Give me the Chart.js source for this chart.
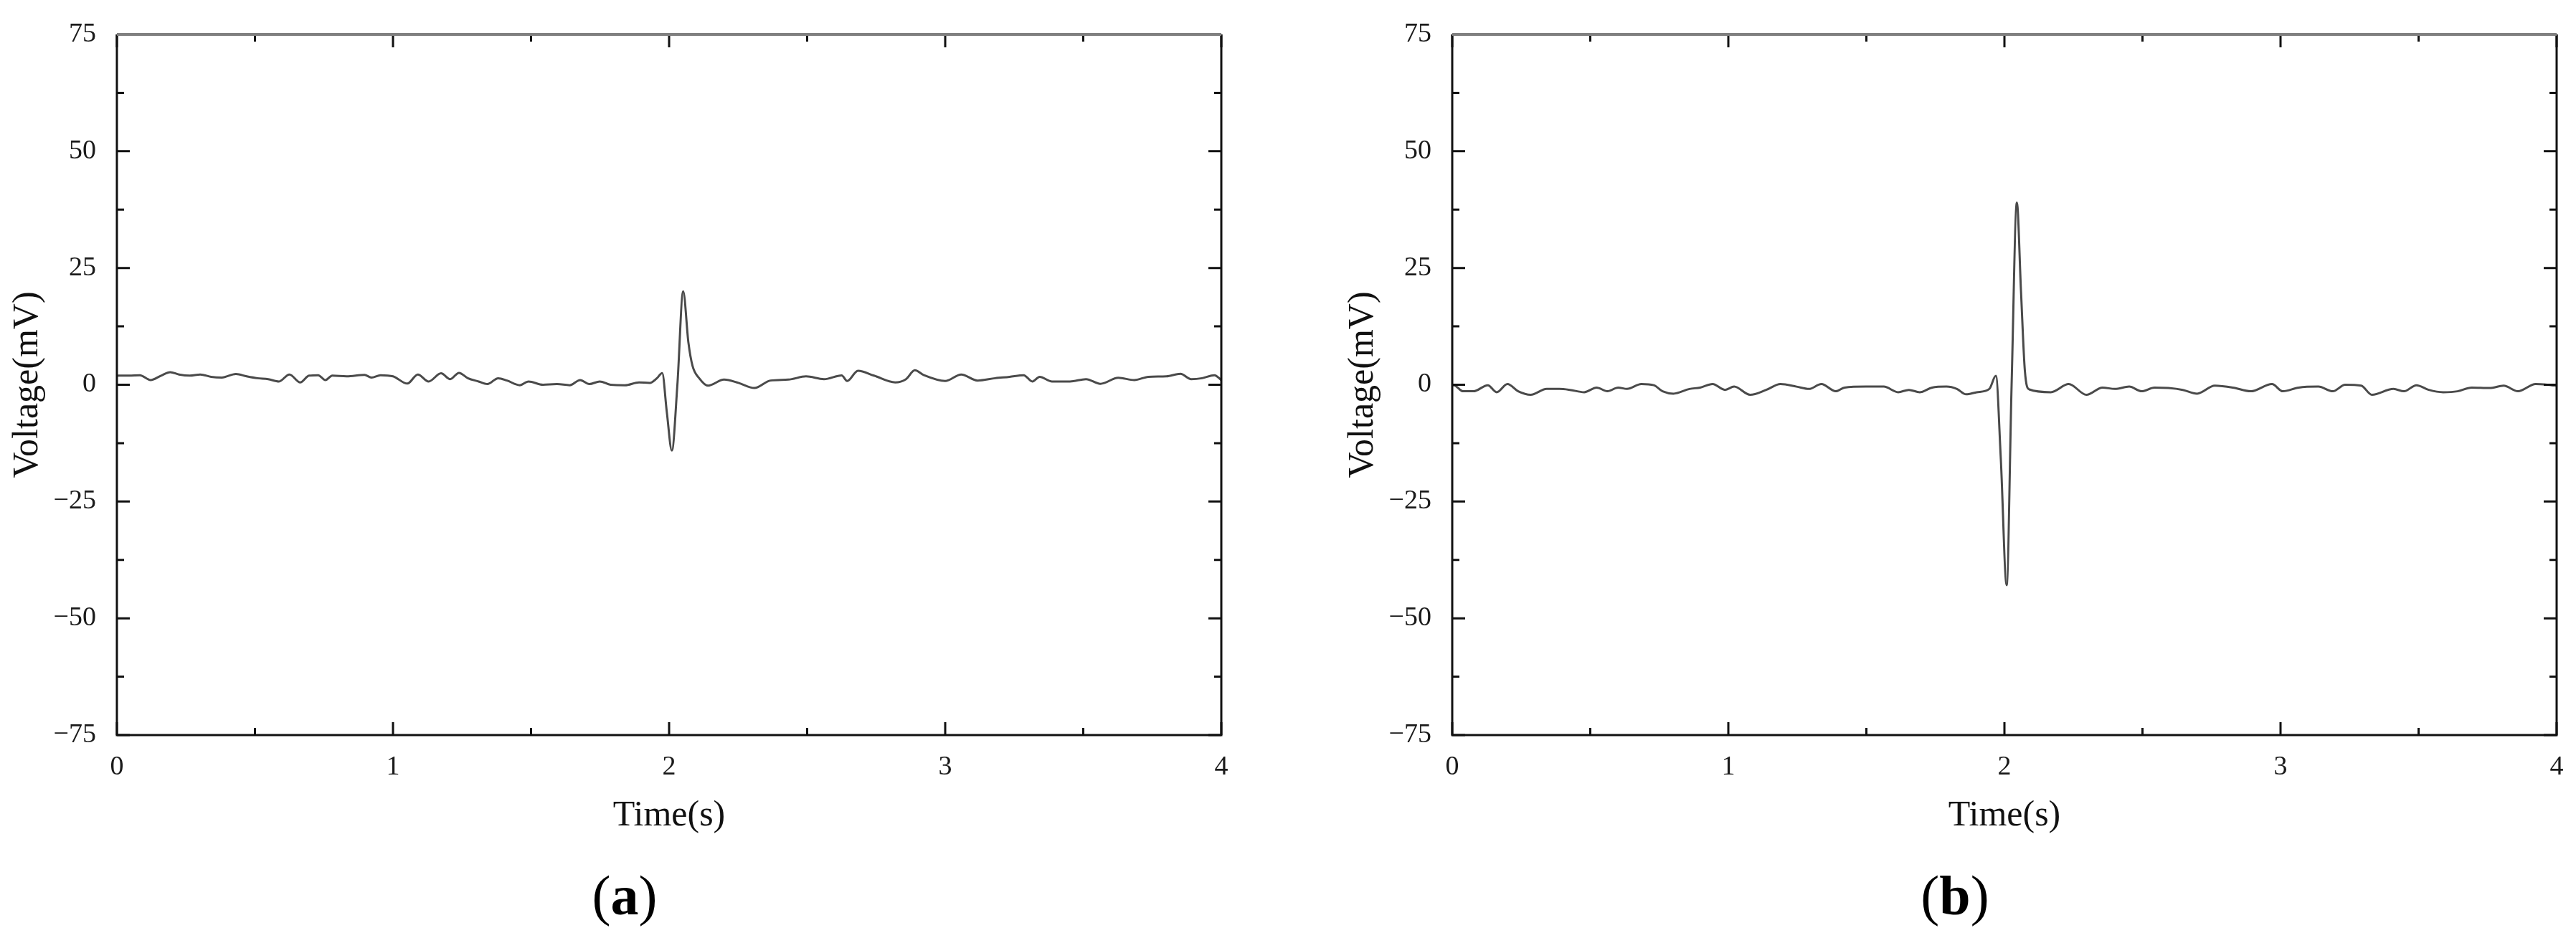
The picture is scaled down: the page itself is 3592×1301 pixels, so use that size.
<!DOCTYPE html>
<html>
<head>
<meta charset="utf-8">
<script src="https://cdn.jsdelivr.net/npm/chart.js@4/dist/chart.umd.min.js"></script>
<style>
  body { margin: 0; background: #fff; width: 3592px; height: 1301px; overflow: hidden; position: relative; }
  canvas { position: absolute; top: 0; }
  .panel { position: absolute; top: 1249px; transform: translate(-50%, -50%); font-family: 'Liberation Serif', serif; font-size: 78px; line-height: 1; color: #000; }
</style>
</head>
<body>
<canvas id="chartA" width="1796" height="1301" style="left:0px"></canvas>
<canvas id="chartB" width="1796" height="1301" style="left:1796px"></canvas>
<div class="panel" style="left:871px">(<b>a</b>)</div>
<div class="panel" style="left:2726px">(<b>b</b>)</div>
<script>
// panel (a) trace, time in s and voltage in mV
var timeA = [0, 0.005, 0.044, 0.083, 0.122, 0.160, 0.193, 0.225, 0.264, 0.302,
  0.341, 0.380, 0.431, 0.470, 0.509, 0.548, 0.587, 0.625, 0.664, 0.696,
  0.729, 0.755, 0.780, 0.832, 0.897, 0.922, 0.955, 1.000, 1.052, 1.090,
  1.129, 1.174, 1.207, 1.239, 1.271, 1.310, 1.342, 1.381, 1.413, 1.459,
  1.491, 1.543, 1.594, 1.640, 1.678, 1.711, 1.749, 1.788, 1.840, 1.891,
  1.930, 1.956, 1.975, 1.992, 2.010, 2.030, 2.051, 2.070, 2.085, 2.109,
  2.141, 2.199, 2.251, 2.309, 2.367, 2.432, 2.496, 2.561, 2.625, 2.645,
  2.684, 2.742, 2.819, 2.858, 2.890, 2.923, 3.000, 3.058, 3.117, 3.181,
  3.233, 3.284, 3.316, 3.342, 3.387, 3.452, 3.510, 3.562, 3.627, 3.685,
  3.736, 3.801, 3.852, 3.891, 3.930, 3.975, 4.0];
var voltA = [1.9, 1.95, 1.95, 2.05, 1.0, 1.95, 2.7, 2.2, 1.95, 2.2,
  1.7, 1.55, 2.3, 1.8, 1.4, 1.2, 0.7, 2.2, 0.5, 1.95,
  2.05, 1.0, 1.95, 1.8, 2.1, 1.55, 2.05, 1.8, 0.25, 2.2,
  0.7, 2.45, 1.2, 2.55, 1.4, 0.7, 0.15, 1.4, 0.9, -0.1,
  0.7, 0.0, 0.15, -0.1, 1.0, 0.15, 0.7, 0.0, -0.1, 0.5,
  0.4, 1.4, 2.5, -6, -14.1, 0, 20, 9, 4, 1.4,
  -0.2, 1.1, 0.4, -0.7, 0.9, 1.1, 1.8, 1.2, 2.0, 0.8,
  3.0, 1.95, 0.5, 1.2, 3.1, 2.05, 0.8, 2.2, 0.9, 1.4,
  1.7, 2.05, 0.7, 1.7, 0.7, 0.7, 1.2, 0.2, 1.5, 1.0,
  1.7, 1.8, 2.35, 1.2, 1.4, 2.05, 1.0];

// panel (b) trace
var timeB = [0, 0.006, 0.039, 0.077, 0.129, 0.161, 0.200, 0.239, 0.284, 0.342,
  0.388, 0.426, 0.478, 0.523, 0.562, 0.601, 0.633, 0.685, 0.730, 0.762,
  0.801, 0.859, 0.898, 0.943, 0.988, 1.021, 1.079, 1.137, 1.189, 1.247,
  1.292, 1.337, 1.389, 1.421, 1.499, 1.563, 1.615, 1.654, 1.693, 1.738,
  1.790, 1.828, 1.861, 1.900, 1.945, 1.969, 1.987, 2.008, 2.026, 2.045,
  2.060, 2.074, 2.090, 2.168, 2.233, 2.297, 2.355, 2.400, 2.452, 2.497,
  2.543, 2.594, 2.646, 2.698, 2.762, 2.827, 2.892, 2.969, 3.008, 3.066,
  3.137, 3.189, 3.234, 3.292, 3.331, 3.409, 3.447, 3.492, 3.537, 3.589,
  3.641, 3.692, 3.757, 3.808, 3.860, 3.924, 3.982, 4.0];
var voltB = [-0.1, -0.1, -1.4, -1.4, -0.1, -1.6, 0.15, -1.4, -2.15, -0.9,
  -0.9, -1.1, -1.6, -0.6, -1.4, -0.6, -0.9, 0.15, -0.1, -1.4,
  -1.9, -0.9, -0.6, 0.15, -1.1, -0.4, -2.15, -1.1, 0.15, -0.4,
  -0.9, 0.15, -1.4, -0.6, -0.4, -0.4, -1.6, -1.1, -1.6, -0.6,
  -0.4, -0.9, -2.05, -1.6, -0.9, 1.9, -16, -42.9, 0, 39,
  20, 3, -1.0, -1.6, 0.15, -2.15, -0.6, -0.9, -0.4, -1.4,
  -0.6, -0.7, -1.1, -1.9, -0.2, -0.6, -1.4, 0.15, -1.4, -0.6,
  -0.4, -1.4, 0.0, -0.2, -2.15, -0.9, -1.4, -0.1, -1.1, -1.6,
  -1.4, -0.6, -0.7, -0.2, -1.4, 0.15, -0.1, -0.2];

var xTicks = [0, 1, 2, 3, 4];
var xTickLabels = ['0', '1', '2', '3', '4'];
var yTicks = [-75, -50, -25, 0, 25, 50, 75];
var yTickLabels = ['\u221275', '\u221250', '\u221225', '0', '25', '50', '75'];

var serif = "'Liberation Serif', 'Times New Roman', serif";

// inward ticks on all four sides plus the frame
var frameTicks = {
  id: 'frameTicks',
  afterDraw: function (chart) {
    var ctx = chart.ctx;
    var a = chart.chartArea;
    var sx = chart.scales.x;
    var sy = chart.scales.y;
    ctx.save();
    ctx.strokeStyle = '#111';
    ctx.lineWidth = 3;
    ctx.beginPath();
    for (var i = 0; i < xTicks.length; i++) {
      var px = sx.getPixelForValue(xTicks[i]);
      ctx.moveTo(px, a.bottom); ctx.lineTo(px, a.bottom - 18);
      ctx.moveTo(px, a.top); ctx.lineTo(px, a.top + 18);
      if (i < xTicks.length - 1) {
        var mx = sx.getPixelForValue((xTicks[i] + xTicks[i + 1]) / 2);
        ctx.moveTo(mx, a.bottom); ctx.lineTo(mx, a.bottom - 10);
        ctx.moveTo(mx, a.top); ctx.lineTo(mx, a.top + 10);
      }
    }
    for (var j = 0; j < yTicks.length; j++) {
      var py = sy.getPixelForValue(yTicks[j]);
      ctx.moveTo(a.left, py); ctx.lineTo(a.left + 18, py);
      ctx.moveTo(a.right, py); ctx.lineTo(a.right - 18, py);
      if (j < yTicks.length - 1) {
        var my = sy.getPixelForValue((yTicks[j] + yTicks[j + 1]) / 2);
        ctx.moveTo(a.left, my); ctx.lineTo(a.left + 10, my);
        ctx.moveTo(a.right, my); ctx.lineTo(a.right - 10, my);
      }
    }
    ctx.stroke();
    ctx.beginPath();
    ctx.moveTo(a.left, a.top); ctx.lineTo(a.left, a.bottom);
    ctx.lineTo(a.right, a.bottom); ctx.lineTo(a.right, a.top);
    ctx.stroke();
    ctx.strokeStyle = '#808080';
    ctx.lineWidth = 4;
    ctx.beginPath();
    ctx.moveTo(a.left, a.top); ctx.lineTo(a.right, a.top);
    ctx.stroke();
    ctx.restore();
  }
};

function makeChart(id, times, volts, padLeft, padRight) {
  var pts = [];
  for (var i = 0; i < times.length; i++) {
    pts.push({ x: times[i], y: volts[i] });
  }
  return new Chart(document.getElementById(id).getContext('2d'), {
    type: 'line',
    data: {
      datasets: [{
        data: pts,
        borderColor: '#4a4a4a',
        borderWidth: 3,
        pointRadius: 0,
        cubicInterpolationMode: 'monotone',
        fill: false
      }]
    },
    options: {
      responsive: false,
      animation: false,
      layout: { padding: { left: padLeft, right: padRight, top: 48, bottom: 121 } },
      plugins: { legend: { display: false }, tooltip: { enabled: false } },
      scales: {
        x: {
          type: 'linear',
          min: 0,
          max: 4,
          grid: { display: false },
          border: { display: false },
          ticks: {
            stepSize: 1,
            padding: 14,
            maxRotation: 0,
            color: '#1a1a1a',
            font: { family: serif, size: 38 },
            callback: function (v, idx) { return xTickLabels[idx]; }
          },
          title: {
            display: true,
            text: 'Time(s)',
            color: '#111',
            font: { family: serif, size: 50 },
            padding: { top: 0, bottom: 12 }
          },
          afterFit: function (scale) { scale.height = 155; }
        },
        y: {
          min: -75,
          max: 75,
          grid: { display: false },
          border: { display: false },
          ticks: {
            stepSize: 25,
            padding: 21,
            color: '#1a1a1a',
            font: { family: serif, size: 38 },
            callback: function (v, idx) { return yTickLabels[idx]; }
          },
          title: {
            display: true,
            text: 'Voltage(mV)',
            color: '#111',
            font: { family: serif, size: 50 },
            padding: { top: 9, bottom: 0 }
          },
          afterFit: function (scale) { scale.width = 163; }
        }
      }
    },
    plugins: [frameTicks]
  });
}

makeChart('chartA', timeA, voltA, 0, 93);
makeChart('chartB', timeB, voltB, 66, 27);
</script>
</body>
</html>
